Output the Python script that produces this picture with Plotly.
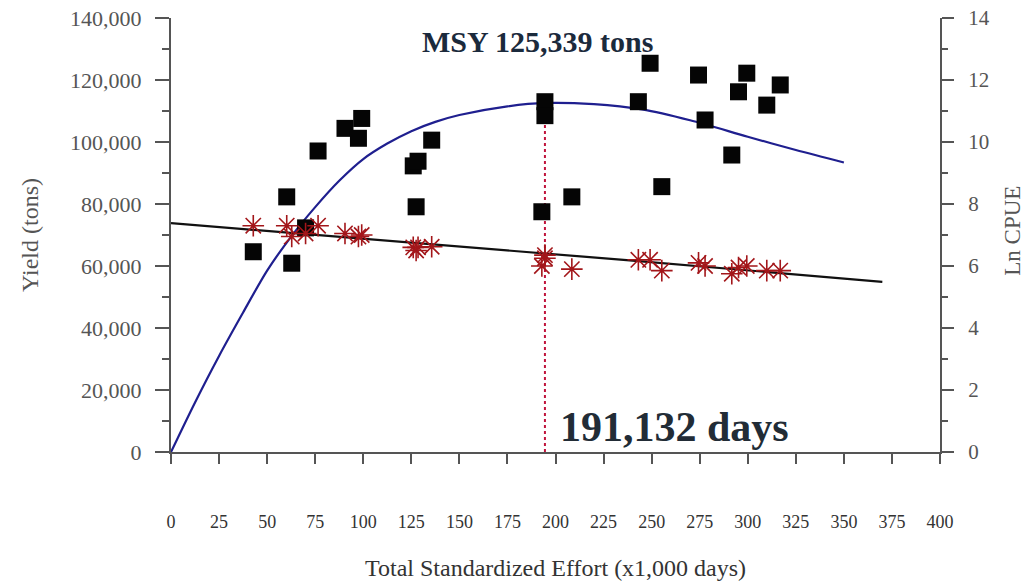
import plotly.graph_objects as go

# Observed yield (tons) vs total standardized effort (x1,000 days)
effort = [42.8, 60.2, 62.8, 70.0, 76.5, 90.5, 97.5, 99.2, 126.0, 128.5, 127.5,
          135.6, 192.9, 194.5, 194.5, 208.5, 243.1, 249.2, 255.3, 274.4, 277.8,
          291.7, 295.2, 299.5, 309.9, 316.9]
yield_tons = [64600, 82300, 60900, 72300, 97100, 104400, 101200, 107600, 92300,
              93800, 79100, 100600, 77500, 113000, 108500, 82300, 113000, 125400,
              85600, 121600, 107100, 95800, 116200, 122200, 111900, 118400]

# Ln CPUE for the same effort levels
ln_cpue = [7.30, 7.30, 6.95, 7.05, 7.30, 7.05, 6.95, 7.00, 6.60, 6.60, 6.50,
           6.62, 6.00, 6.35, 6.25, 5.90, 6.20, 6.20, 5.85, 6.10, 6.00,
           5.75, 5.95, 6.00, 5.85, 5.85]

# Fitted surplus-production curve
fit_effort = [0, 12.5, 25, 37.5, 50, 62.5, 75, 87.5, 100, 112.5, 125, 137.5,
              150, 175, 195, 220, 245, 270, 300, 325, 350]
fit_yield = [0, 16000, 31000, 45000, 58500, 69500, 79000, 87500, 94500, 99500,
             103500, 106500, 108700, 111500, 112600, 112200, 110500, 107000,
             101700, 97400, 93400]

# Ln CPUE regression line
reg_effort = [0, 150, 237, 370]
reg_cpue = [7.38, 6.62, 6.19, 5.49]

f_msy = 194.5
msy_line_top = 113000

SERIF = "Liberation Serif"
GREY = "#555555"

fig = go.Figure()

fig.add_trace(
    go.Scatter(
        x=reg_effort, y=reg_cpue, yaxis="y2", mode="lines",
        line=dict(color="#111111", width=2.2),
        showlegend=False, hoverinfo="skip",
    )
)

fig.add_trace(
    go.Scatter(
        x=fit_effort, y=fit_yield, mode="lines",
        line=dict(color="#1f1f8f", width=2.2, shape="spline", smoothing=0.8),
        showlegend=False,
    )
)

fig.add_trace(
    go.Scatter(
        x=[f_msy, f_msy], y=[0, msy_line_top], mode="lines",
        line=dict(color="#c0143c", width=2, dash="dot"),
        showlegend=False, hoverinfo="skip",
    )
)

fig.add_trace(
    go.Scatter(
        x=effort, y=yield_tons, mode="markers",
        marker=dict(symbol="square", size=17, color="#050505"),
        showlegend=False,
    )
)

fig.add_trace(
    go.Scatter(
        x=effort, y=ln_cpue, yaxis="y2", mode="markers",
        marker=dict(symbol="asterisk-open", size=18, color="#a3161a",
                    line=dict(color="#a3161a", width=1.6)),
        showlegend=False,
    )
)

axis_common = dict(
    showgrid=False, zeroline=False, showline=True, automargin=False,
    linecolor=GREY, linewidth=2, ticks="outside", tickcolor=GREY,
    tickwidth=2,
)

fig.update_layout(
    width=1030, height=585,
    margin=dict(l=171, r=90, t=18, b=133),
    paper_bgcolor="white", plot_bgcolor="white",
    font=dict(family=SERIF, color=GREY),
    xaxis=dict(
        **axis_common, range=[0, 400], dtick=25, ticklen=10,
        tickfont=dict(size=18, color="#333333"), ticklabelstandoff=42,
    ),
    yaxis=dict(
        **axis_common, range=[0, 140000], dtick=20000, ticklen=14,
        tickformat=",d", tickfont=dict(size=22, color=GREY),
        ticklabelstandoff=9,
        minor=dict(dtick=10000, ticks="outside", ticklen=7, tickcolor=GREY,
                   tickwidth=2),
    ),
    yaxis2=dict(
        **axis_common, range=[0, 14], dtick=2, ticklen=12, overlaying="y",
        side="right", tickfont=dict(size=21, color=GREY),
        ticklabelstandoff=10,
        minor=dict(dtick=1, ticks="outside", ticklen=6, tickcolor=GREY,
                   tickwidth=2),
    ),
    annotations=[
        dict(text="<b>MSY 125,339 tons</b>", x=190.4, y=132300, xref="x",
             yref="y", showarrow=False,
             font=dict(family=SERIF, size=30, color="#1b2a3c"),
             xanchor="center", yanchor="middle"),
        dict(text="<b>191,132 days</b>", x=262, y=8100, xref="x", yref="y",
             showarrow=False, font=dict(family=SERIF, size=42, color="#222c36"),
             xanchor="center", yanchor="middle"),
        dict(text="Total Standardized Effort (x1,000 days)", x=0.5,
             y=-0.267, xref="paper", yref="paper", showarrow=False,
             font=dict(family=SERIF, size=24, color="#333333"),
             xanchor="center", yanchor="middle"),
        dict(text="Yield (tons)", x=-0.1834, y=0.5, xref="paper", yref="paper",
             textangle=-90, showarrow=False,
             font=dict(family=SERIF, size=24, color=GREY),
             xanchor="center", yanchor="middle"),
        dict(text="Ln CPUE", x=1.095, y=0.51, xref="paper", yref="paper",
             textangle=-90, showarrow=False,
             font=dict(family=SERIF, size=23, color=GREY),
             xanchor="center", yanchor="middle"),
    ],
)

# drop the default 8px page margin so the figure fills the window
fig.write_html(
    "out.html",
    config={"displayModeBar": False},
    post_script="document.body.style.margin='0';",
)
